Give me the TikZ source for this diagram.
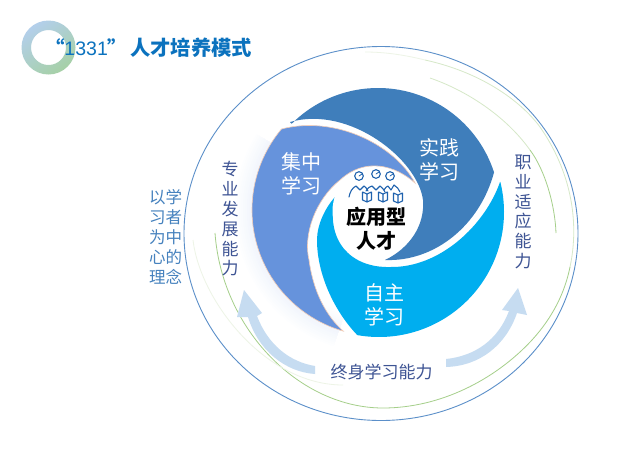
\documentclass[tikz,border=0pt]{standalone}
\usepackage{fontspec}
\setmainfont{Liberation Sans}
\newfontfamily\cjk{Noto Sans CJK SC}
\definecolor{darkblade}{HTML}{3F7EBB}
\definecolor{periblade}{HTML}{6693DC}
\definecolor{cyanblade}{HTML}{00AEEF}
\definecolor{peach}{HTML}{F2CDB8}
\definecolor{navytext}{HTML}{3E5494}
\definecolor{bluetext}{HTML}{4682BE}
\definecolor{titleblue}{HTML}{0B72BE}
\definecolor{arrowblue}{HTML}{C6DCF1}
\definecolor{ringblue}{HTML}{5B8FC9}
\definecolor{ringtop}{HTML}{B3CFEB}
\definecolor{ringmid}{HTML}{A6C8E8}
\definecolor{ringlow}{HTML}{A6D0A6}
\definecolor{greenstrong}{HTML}{A5CF8A}
\definecolor{greenlight}{HTML}{D6E8C8}
\definecolor{greenfaint}{HTML}{EDF4E6}
\definecolor{iconblue}{HTML}{1F62AE}
\tikzset{
  whitelabel/.style={text=white,font=\cjk\fontsize{20}{24}\selectfont,align=center},
  sidelabel/.style={text=navytext,font=\cjk\fontsize{17}{19.8}\selectfont,align=center},
  ideallabel/.style={text=bluetext,font=\cjk\fontsize{16.5}{20}\selectfont,align=center},
  corelabel/.style={text=black,font=\cjk\bfseries\fontsize{20}{24}\selectfont,align=center},
  icon/.style={iconblue,line width=1.1pt,line join=round,line cap=round},
  greenarc/.style={line width=.8pt}
}
\begin{document}
\begin{tikzpicture}[x=1pt,y=-1pt,inner sep=0pt,outer sep=0pt]
\useasboundingbox (0,0) rectangle (640,448);
\fill[white] (0,0) rectangle (640,448);
% title ring
\shade[even odd rule,shading=axis,top color=ringtop,middle color=ringmid,bottom color=ringlow,shading angle=35]
  (48.5,47.5) circle (27) (48.5,47.5) circle (17.5);
\node[anchor=west,text=titleblue] (title) at (45,48)
  {\fontsize{19.5}{22}\selectfont{\cjk\bfseries “}1331{\cjk\bfseries ”}\hspace{3pt}{\cjk\bfseries\fontsize{20.3}{22}\selectfont 人才培养模式}};
% outer circle
\draw[ringblue,line width=.9pt] (381,233.5) ellipse [x radius=197,y radius=187];
% green arcs
\draw[greenarc,greenstrong] (215,233) .. controls (222,330) and (300,408) .. (383,408)
  .. controls (440,408) and (495,380) .. (532,340) .. controls (553,317) and (565,292) .. (570,267);
\draw[greenarc,greenlight] (570,267) .. controls (580,220) and (570,170) .. (540,127)
  .. controls (520,100) and (480,72) .. (425,60);
\draw[greenarc,greenfaint] (425,60) .. controls (405,55) and (385,52) .. (365,52);
\draw[greenarc,greenstrong] (556,233) .. controls (555,205) and (545,170) .. (530,150);
\draw[greenarc,greenlight] (530,150) .. controls (505,115) and (465,90) .. (430,78);
\draw[greenarc,greenfaint] (193,240) .. controls (200,300) and (265,385) .. (343,385);
% glow behind the left blade
\foreach \w/\c in {34/99,30/98,26/97,22/96,18/95,14/94,10/93,6/92}{
  \draw[draw=white!\c!periblade,line width=\w pt] plot[domain=148:252,samples=50,smooth] ({378+126*cos(\x)},{210-126*sin(\x)});
}
% cyan blade
\fill[cyanblade] plot[domain=14:-100,samples=50,smooth] ({379+125*cos(\x)},{212-125*sin(\x)})
  .. controls (335,312) and (317,275) .. (317,240) .. controls (317,225) and (325,208) .. (335,197)
  .. controls (325,240) and (350,268) .. (390,267) .. controls (440,268) and (485,225) .. (500,182) -- cycle;
% white core
\fill[white] (378,211) circle (45.5);
% dark blade
\fill[darkblade] plot[domain=135:18,samples=50,smooth] ({378+122*cos(\x)},{210-122*sin(\x)})
  .. controls (480,225) and (435,262) .. (385,260)
  .. controls (410,248) and (425,225) .. (423,200)
  .. controls (418,160) and (350,105) .. (290,122) -- cycle;
% periwinkle blade
\filldraw[fill=periblade,draw=peach,line width=.6pt] plot[domain=140:254,samples=50,smooth] ({378+126*cos(\x)},{210-126*sin(\x)})
  .. controls (325,315) and (313,290) .. (309,260)
  .. controls (303,235) and (315,200) .. (340,180)
  .. controls (365,157) and (395,165) .. (415,183)
  .. controls (395,145) and (335,115) .. (281.5,129) -- cycle;
% arrows
\fill[arrowblue] (315,366) .. controls (290,362) and (268,345) .. (257,316) -- (262,313) -- (244,290) -- (237,317) -- (248,317) .. controls (258,350) and (285,372) .. (315,374) -- cycle;
\fill[arrowblue] (446,359) .. controls (475,356) and (498,340) .. (509,311) -- (502,310) -- (518,288) -- (527,315) -- (517,313) .. controls (506,345) and (480,366) .. (446,367) -- cycle;
% icon
\foreach \hx/\hy in {359/176,376/174,390/176}{
  \draw[icon] (\hx,\hy) circle (4.3);
  \draw[icon,line width=.8pt] (\hx,\hy) -- (\hx+3,\hy-2);
}
\draw[icon] (349,197) .. controls (350,192) and (352,188) .. (356,186) -- (360,190) -- (364,186) .. controls (365,187) and (367,188) .. (368,191);
\draw[icon] (366,191) .. controls (368,188) and (370,186) .. (372,186) -- (376,190) -- (380,186) .. controls (381,187) and (383,188) .. (385,192);
\draw[icon] (384,190) .. controls (385,188) and (387,186) .. (388,186) -- (391,190) -- (394,185) .. controls (397,187) and (399,189) .. (400,192);
\foreach \bx/\by in {367/197,383/197,398/198}{
  \draw[icon] (\bx,\by-3) -- (\bx-4.5,\by-5) -- (\bx-4.5,\by+3) -- (\bx,\by+5) -- (\bx+4.5,\by+3) -- (\bx+4.5,\by-5) -- cycle (\bx,\by-3) -- (\bx,\by+5);
}
% labels
\node[whitelabel] (jizhong) at (301,174) {集中\\学习};
\node[whitelabel] (shijian) at (439,159.5) {实践\\学习};
\node[whitelabel] (zizhu) at (384,305) {自主\\学习};
\node[corelabel] (core) at (376,229) {应用型\\人才};
\node[sidelabel] (zhuanye) at (230,219) {专\\业\\发\\展\\能\\力};
\node[sidelabel] (zhiye) at (523,212) {职\\业\\适\\应\\能\\力};
\node[text=navytext,font=\cjk\fontsize{17}{20}\selectfont] (zhongshen) at (381.5,372) {终身学习能力};
\node[ideallabel] (linian) at (165.5,237) {以学\\习者\\为中\\心的\\理念};
\end{tikzpicture}
\end{document}
